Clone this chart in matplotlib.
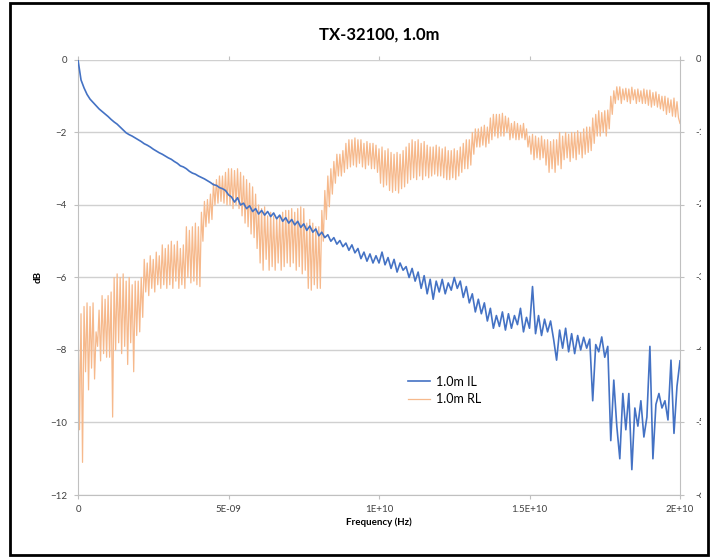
import numpy as np
import matplotlib.pyplot as plt
import matplotlib.transforms as mtransforms
from matplotlib.patches import Rectangle

plt.rcParams['font.family'] = ['Lato', 'DejaVu Sans']

# insertion loss, 1.0m (dB), one value per 0.1 GHz from 0 to 20 GHz
il_db = [
    0.00, -0.55, -0.77, -0.95, -1.08, -1.17, -1.26, -1.35, -1.42, -1.49,
    -1.56, -1.64, -1.71, -1.77, -1.85, -1.93, -2.01, -2.06, -2.10, -2.15,
    -2.20, -2.25, -2.31, -2.35, -2.40, -2.46, -2.51, -2.56, -2.60, -2.65,
    -2.70, -2.74, -2.80, -2.85, -2.92, -2.95, -3.00, -3.07, -3.12, -3.15,
    -3.20, -3.24, -3.28, -3.33, -3.38, -3.44, -3.46, -3.52, -3.55, -3.60,
    -3.72, -3.78, -3.92, -3.80, -4.00, -3.95, -4.10, -4.02, -4.18, -4.10,
    -4.25, -4.15, -4.28, -4.18, -4.32, -4.22, -4.38, -4.28, -4.45, -4.35,
    -4.50, -4.40, -4.55, -4.45, -4.62, -4.52, -4.70, -4.58, -4.75, -4.66,
    -4.85, -4.75, -4.90, -4.82, -5.00, -4.90, -5.08, -4.98, -5.15, -5.05,
    -5.25, -5.10, -5.32, -5.20, -5.48, -5.30, -5.55, -5.35, -5.60, -5.40,
    -5.60, -5.30, -5.65, -5.45, -5.75, -5.50, -5.85, -5.60, -5.80, -5.70,
    -6.00, -5.75, -6.10, -5.85, -6.30, -5.95, -6.45, -6.05, -6.60, -6.10,
    -6.40, -6.05, -6.45, -6.15, -6.35, -6.00, -6.30, -6.10, -6.55, -6.25,
    -6.70, -6.45, -6.95, -6.60, -7.00, -6.70, -7.20, -6.85, -7.40, -7.05,
    -7.35, -6.95, -7.45, -7.00, -7.40, -7.05, -7.30, -6.85, -7.50, -7.10,
    -7.40, -6.25, -7.55, -7.05, -7.60, -7.15, -7.50, -7.20, -7.70, -8.28,
    -7.45, -7.95, -7.40, -8.05, -7.55, -8.10, -7.60, -8.00, -7.65, -7.95,
    -7.70, -9.40, -7.85, -8.05, -7.64, -8.20, -7.90, -10.50, -8.83, -10.10,
    -11.00, -9.20, -10.20, -9.20, -11.30, -9.60, -10.10, -9.40, -10.40, -9.85,
    -7.90, -11.00, -9.50, -9.20, -9.60, -9.40, -9.93, -8.28, -10.30, -9.00,
    -8.30,
]

# return loss, 1.0m (dB): ripple peaks at 0, 0.1, ... 20 GHz
rl_peak_db = [
    -6.9, -7.0, -6.8, -6.7, -6.8, -6.7, -7.5, -6.9, -6.5, -6.6,
    -6.5, -6.4, -6.0, -5.9, -6.0, -5.9, -6.1, -6.0, -6.2, -6.1,
    -6.1, -6.0, -5.5, -5.6, -5.4, -5.5, -5.3, -5.4, -5.1, -5.2,
    -5.1, -5.0, -5.1, -5.0, -5.2, -5.1, -4.6, -4.7, -4.6, -4.5,
    -4.6, -4.2, -3.9, -3.85, -3.7, -3.4, -3.3, -3.2, -3.2, -3.1,
    -3.0, -3.0, -3.05, -3.0, -3.1, -3.2, -3.3, -3.4, -3.5, -3.7,
    -4.0, -4.1, -4.05, -4.3, -4.2, -4.3, -4.35, -4.3, -4.2, -4.15,
    -4.15, -4.1, -4.2, -4.1, -4.05, -4.1, -4.5, -4.4, -4.5, -4.6,
    -4.6, -4.15, -3.6, -3.2, -3.0, -2.8, -2.6, -2.6, -2.5, -2.3,
    -2.2, -2.2, -2.15, -2.2, -2.2, -2.3, -2.25, -2.3, -2.3, -2.35,
    -2.45, -2.4, -2.5, -2.45, -2.55, -2.6, -2.55, -2.6, -2.5, -2.4,
    -2.3, -2.2, -2.25, -2.2, -2.3, -2.25, -2.35, -2.4, -2.4, -2.35,
    -2.4, -2.45, -2.4, -2.5, -2.5, -2.45, -2.5, -2.4, -2.3, -2.2,
    -2.2, -2.0, -1.9, -1.9, -1.85, -1.8, -1.85, -1.6, -1.5, -1.5,
    -1.5, -1.47, -1.55, -1.6, -1.75, -1.7, -1.75, -1.8, -1.75, -1.9,
    -2.1, -2.05, -2.1, -2.15, -2.1, -2.2, -2.2, -2.25, -2.2, -2.2,
    -2.0, -2.1, -2.0, -2.05, -2.0, -2.0, -1.95, -2.0, -1.9, -1.85,
    -1.85, -1.6, -1.5, -1.4, -1.45, -1.4, -1.38, -1.0, -0.85, -0.74,
    -0.74, -0.8, -0.78, -0.8, -0.75, -0.82, -0.8, -0.85, -0.8, -0.83,
    -0.83, -0.9, -0.88, -0.95, -1.0, -1.0, -1.05, -1.1, -1.05, -1.15,
    -1.75,
]

# return loss ripple troughs at 0.05, 0.15, ... 19.95 GHz
rl_trough_db = [
    -10.2, -11.1, -8.6, -9.1, -8.5, -8.8, -7.9, -8.3, -8.1, -8.2,
    -8.2, -9.85, -8.0, -7.8, -8.1, -7.9, -8.4, -7.8, -8.6, -7.6,
    -7.5, -7.1, -6.4, -6.5, -6.3, -6.4, -6.2, -6.3, -6.2, -6.3,
    -6.2, -6.3, -6.1, -6.3, -6.2, -6.3, -6.0, -6.15, -6.1, -6.2,
    -6.25, -5.0, -4.6, -4.5, -4.4, -4.0, -3.95, -3.9, -3.95, -4.0,
    -4.0, -4.1, -4.0, -4.1, -4.3, -4.5, -4.6, -4.8, -4.9, -5.2,
    -5.6, -5.8, -5.5, -5.8, -5.7, -5.8, -5.6, -5.8, -5.7, -5.6,
    -5.7, -5.6, -5.8, -5.7, -5.9, -5.8, -6.3, -6.35, -6.2, -6.3,
    -6.3, -5.0, -4.4, -4.05, -3.7, -3.4, -3.2, -3.2, -3.1, -3.0,
    -2.95, -2.9, -2.95, -2.85, -2.95, -3.0, -2.9, -3.0, -3.0, -3.1,
    -3.4, -3.5, -3.45, -3.6, -3.65, -3.6, -3.67, -3.55, -3.5, -3.4,
    -3.3, -3.25, -3.3, -3.2, -3.3, -3.2, -3.25, -3.2, -3.15, -3.2,
    -3.2, -3.25, -3.3, -3.3, -3.25, -3.3, -3.2, -3.1, -3.0, -3.0,
    -2.9, -2.6, -2.4, -2.4, -2.35, -2.4, -2.3, -2.2, -2.1, -2.15,
    -2.1, -2.1, -2.0, -2.2, -2.15, -2.2, -2.2, -2.15, -2.2, -2.4,
    -2.6, -2.75, -2.7, -2.75, -2.7, -2.9, -3.1, -3.0, -3.1, -2.9,
    -3.0, -2.75, -2.7, -2.8, -2.7, -2.75, -2.6, -2.7, -2.6, -2.55,
    -2.5, -2.3, -2.1, -2.1, -2.0, -2.1, -1.9, -1.5, -1.2, -1.1,
    -1.2, -1.1, -1.15, -1.2, -1.1, -1.2, -1.15, -1.2, -1.2, -1.25,
    -1.3, -1.25, -1.3, -1.35, -1.4, -1.5, -1.45, -1.55, -1.57, -1.6,
]

x_ticks = [0, 5e9, 1e10, 1.5e10, 2e10]
x_labels = ['0', '5E-09', '1E+10', '1.5E+10', '2E+10']
y_ticks = [0, -2, -4, -6, -8, -10, -12]
right_labels = ['0', '-10', '-20', '-30', '-40', '-50', '-60']

# frequency axes for the two traces
il_freq = np.linspace(0, 2e10, len(il_db))
rl_freq = np.linspace(0, 2e10, len(rl_peak_db) + len(rl_trough_db))
# peaks and troughs alternate along the trace
rl_db = np.empty(len(rl_freq))
rl_db[0::2] = rl_peak_db
rl_db[1::2] = rl_trough_db

fig = plt.figure(figsize=(7.17, 5.58), dpi=100)
ax = fig.add_axes([0.1088, 0.1129, 0.8396, 0.7796])

ax.plot(il_freq, il_db, color='#4472C4', lw=1.2, label='1.0m IL', zorder=3)
ax.plot(rl_freq, rl_db, color='#F6B98C', lw=0.9, label='1.0m RL', zorder=2)

ax.set_xlim(0, 2e10)
ax.set_ylim(-12, 0)
ax.set_xticks(x_ticks)
ax.set_xticklabels(x_labels)
ax.set_yticks(y_ticks)
ax.yaxis.grid(True, color='#D0D0D0', lw=1.0)
ax.set_axisbelow(True)

for side in ['left', 'bottom', 'right']:
    ax.spines[side].set_color('#C0C0C0')
ax.spines['top'].set_visible(False)
ax.tick_params(axis='both', labelsize=7, color='#C0C0C0', length=3, labelcolor='#404040')
ax.tick_params(axis='x', top=True, direction='out', pad=4)
ax.tick_params(axis='y', right=True, pad=5)

ax.set_title('TX-32100, 1.0m', fontsize=12, fontweight='bold', pad=15)
ax.set_xlabel('Frequency (Hz)', fontsize=7, fontweight='bold', labelpad=3)
ax.set_ylabel('dB', fontsize=7, fontweight='bold', labelpad=5)

leg = ax.legend(loc='center left', bbox_to_anchor=(0.53, 0.24), frameon=False,
                fontsize=9, handlelength=1.7, handletextpad=0.5, labelspacing=0.45)

# outer chart border
frame = Rectangle((0.0139, 0.0054), 0.9736, 0.9892, transform=fig.transFigure,
                  fill=False, edgecolor='black', lw=2)
fig.patches.append(frame)

# right-hand axis labels, cut off at the chart edge as in the source image
clip = Rectangle((0.0, 0.0), 0.9772, 1.0, transform=fig.transFigure)
trans = mtransforms.blended_transform_factory(ax.transAxes, ax.transData)
for v, lab in zip(y_ticks, right_labels):
    t = ax.text(1.026, v, lab, transform=trans, fontsize=7, color='#404040',
                va='center', ha='left', clip_on=True)
    t.set_clip_path(clip)

fig.savefig('out.png', dpi=100)
